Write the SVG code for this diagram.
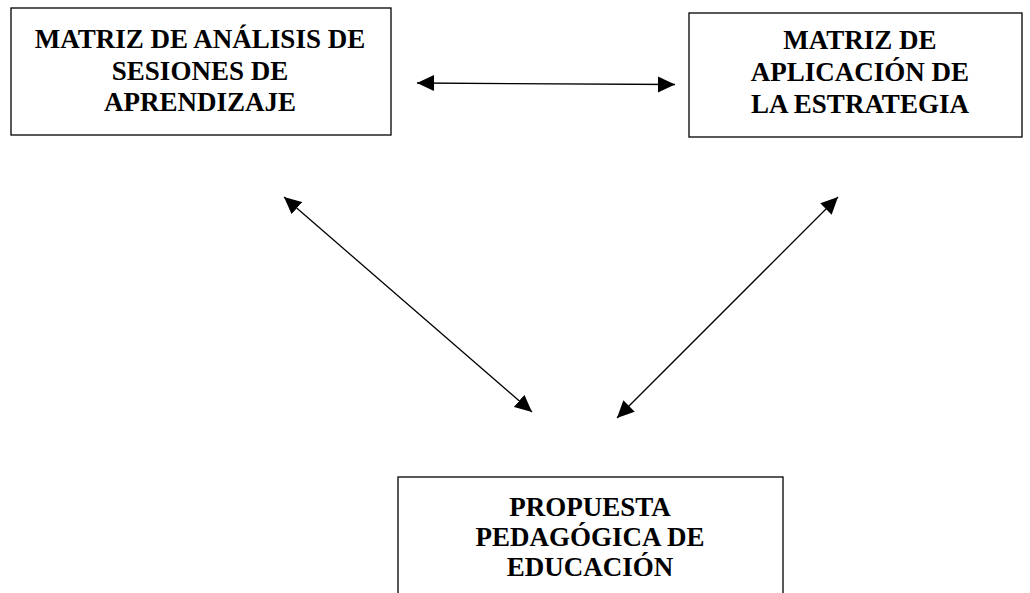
<svg xmlns="http://www.w3.org/2000/svg" width="1030" height="593" viewBox="0 0 1030 593">
<style>
.box{fill:#fff;stroke:#000;stroke-width:1.3}
.t{font-family:"Liberation Serif","Times New Roman",serif;font-weight:bold;font-size:27px;fill:#000;text-anchor:middle}
.c{stroke:#000;stroke-width:1.3;fill:none;marker-start:url(#ah);marker-end:url(#ah)}
</style>
<defs>
<marker id="ah" markerUnits="userSpaceOnUse" markerWidth="19" markerHeight="17" viewBox="0 0 19 17" refX="17" refY="8.5" orient="auto-start-reverse">
<path d="M0,0.5 L17,8.5 L0,16.5 Z" fill="#000"/>
</marker>
</defs>
<rect width="1030" height="593" fill="#fff"/>
<g id="node-analisis">
<rect class="box" x="11" y="8" width="380" height="127"/>
<text class="t" x="200" y="48">MATRIZ DE ANÁLISIS DE</text>
<text class="t" x="200" y="80">SESIONES DE</text>
<text class="t" x="200" y="111">APRENDIZAJE</text>
</g>
<g id="node-aplicacion">
<rect class="box" x="689" y="13" width="333" height="124"/>
<text class="t" x="860" y="49">MATRIZ DE</text>
<text class="t" x="860" y="81">APLICACIÓN DE</text>
<text class="t" x="860" y="113">LA ESTRATEGIA</text>
</g>
<g id="node-propuesta">
<rect class="box" x="398" y="477" width="385" height="130"/>
<text class="t" x="590" y="516">PROPUESTA</text>
<text class="t" x="590" y="546">PEDAGÓGICA DE</text>
<text class="t" x="590" y="576">EDUCACIÓN</text>
</g>
<g id="connectors">
<line class="c" x1="417" y1="83" x2="675" y2="84.5"/>
<line class="c" x1="284" y1="197" x2="532" y2="412"/>
<line class="c" x1="838" y1="197" x2="617" y2="418"/>
</g>
</svg>
